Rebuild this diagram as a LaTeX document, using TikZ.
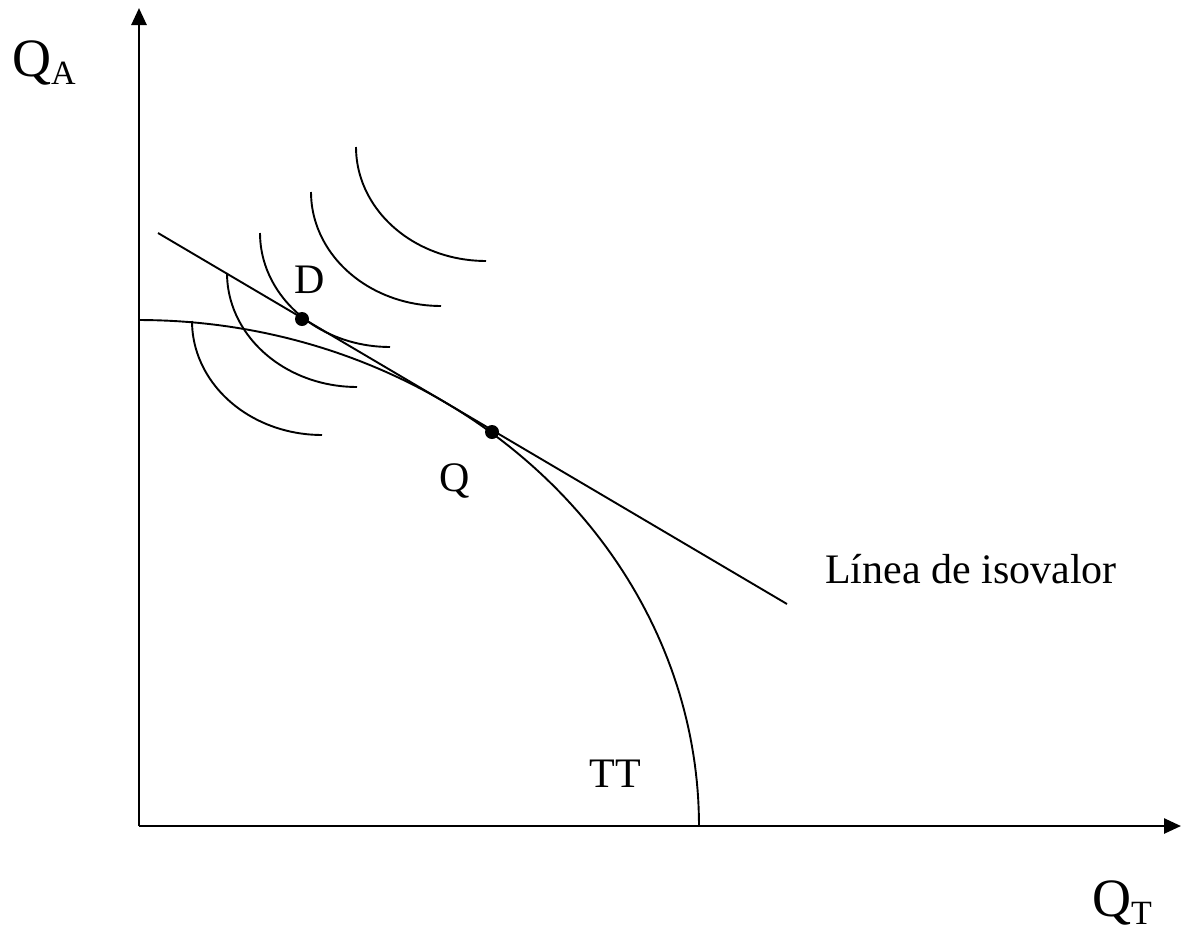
\documentclass[tikz,border=0pt]{standalone}
\usepackage{fontspec}
\setmainfont{Liberation Serif}
\usetikzlibrary{arrows.meta}
\begin{document}
\begin{tikzpicture}[x=1pt,y=-1pt,
  axis/.style={line width=2.6pt,-{Triangle[length=17pt,width=15pt]}},
  curve/.style={line width=1.9pt},
  lbl/.style={font=\fontsize{42}{42}\selectfont, inner sep=0pt, anchor=base},
  axlbl/.style={font=\fontsize{54}{54}\selectfont, inner sep=0pt, anchor=base west},
  dot/.style={circle,fill=black,minimum size=14pt,inner sep=0pt}]
\useasboundingbox (0,0) rectangle (1182,930);
% axes
\coordinate (O) at (139,826);
\coordinate (ytop) at (139,8);
\coordinate (xend) at (1181,826);
\draw[axis] (O) -- (ytop);
\draw[axis] (O) -- (xend);
% transformation curve TT
\draw[curve] plot[domain=90:0,samples=90] ({139+560*cos(\x)},{826-506*sin(\x)});
% isovalue line
\coordinate (L1) at (158,233);
\coordinate (L2) at (787,604);
\draw[curve] (L1) -- (L2);
% indifference curves
\foreach \cx/\cy in {486/147, 441/192, 390/233, 357/273, 322/321}
  \draw[curve] plot[domain=0:90,samples=40] ({\cx-130*cos(\x)},{\cy+114*sin(\x)});
% points
\node[dot] (D) at (302,319) {};
\node[dot] (Q) at (492,432) {};
% labels
\node[lbl] (Dl) at (310,293) {D};
\node[lbl] (Ql) at (455,491) {Q};
\node[lbl] (TT) at (615,787) {TT};
\node[lbl] (iso) at (971,583) {Línea de isovalor};
\node[axlbl] (QA) at (12,76) {Q\raisebox{-8pt}{\fontsize{34}{34}\selectfont A}};
\node[axlbl] (QT) at (1092,916) {Q\raisebox{-8pt}{\fontsize{34}{34}\selectfont T}};
\end{tikzpicture}
\end{document}
